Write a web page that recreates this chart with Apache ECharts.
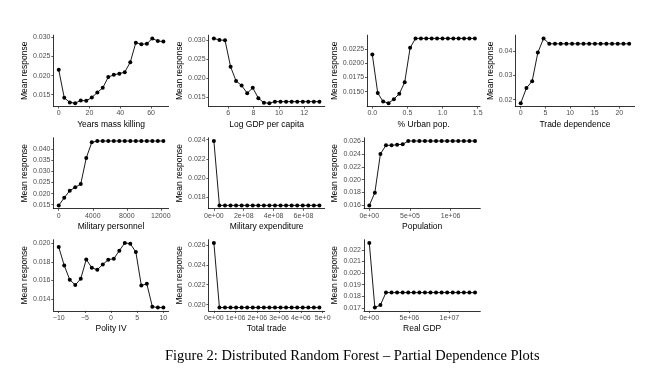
<!DOCTYPE html>
<html><head><meta charset="utf-8">
<script src="https://cdn.jsdelivr.net/npm/echarts@6/dist/echarts.min.js"></script>
<style>html,body{margin:0;padding:0;background:#fff}#c{width:661px;height:383px}</style>
</head><body><div id="c"></div>
<script>
// ---- data ----
const yrsX = [0,3.6,7.2,10.7,14.3,17.9,21.5,25.1,28.6,32.2,35.8,39.4,42.9,46.5,50.1,53.7,57.3,60.8,64.4,68];
const yrsY = [0.0215,0.0142,0.0130,0.0128,0.0135,0.0134,0.0143,0.0156,0.0168,0.0196,0.0202,0.0205,0.0209,0.0235,0.0286,0.0282,0.0283,0.0297,0.0290,0.0289];
const gdpX = [4.87,5.31,5.75,6.19,6.62,7.06,7.50,7.94,8.38,8.82,9.25,9.69,10.13,10.57,11.01,11.45,11.89,12.32,12.76,13.20];
const gdpY = [0.0304,0.0300,0.0299,0.0230,0.0193,0.0181,0.0161,0.0175,0.0148,0.0136,0.0135,0.0139,0.0139,0.0139,0.0139,0.0139,0.0139,0.0139,0.0139,0.0139];
const urbX = [0,0.077,0.154,0.231,0.307,0.384,0.461,0.538,0.615,0.692,0.768,0.845,0.922,0.999,1.076,1.153,1.229,1.306,1.383,1.46];
const urbY = [0.02155,0.01476,0.01327,0.01298,0.01369,0.01464,0.01667,0.02274,0.0244,0.0244,0.0244,0.0244,0.0244,0.0244,0.0244,0.0244,0.0244,0.0244,0.0244,0.0244];
const tdX = [0,1.16,2.32,3.47,4.63,5.79,6.95,8.11,9.26,10.42,11.58,12.74,13.89,15.05,16.21,17.37,18.53,19.68,20.84,22];
const tdY = [0.0186,0.0248,0.0276,0.0393,0.0451,0.0429,0.0429,0.0429,0.0429,0.0429,0.0429,0.0429,0.0429,0.0429,0.0429,0.0429,0.0429,0.0429,0.0429,0.0429];
const mpX = [0,647,1295,1942,2589,3237,3884,4532,5179,5826,6474,7121,7768,8416,9063,9711,10358,11005,11653,12300];
const mpY = [0.0147,0.0181,0.0213,0.0228,0.0243,0.0360,0.0430,0.0436,0.0436,0.0436,0.0436,0.0436,0.0436,0.0436,0.0436,0.0436,0.0436,0.0436,0.0436,0.0436];
const meX = [0,3.72e7,7.44e7,1.116e8,1.488e8,1.861e8,2.233e8,2.605e8,2.977e8,3.349e8,3.721e8,4.093e8,4.465e8,4.837e8,5.209e8,5.582e8,5.954e8,6.326e8,6.698e8,7.07e8];
const meY = [0.02386,0.01711,0.01711,0.01711,0.01711,0.01711,0.01711,0.01711,0.01711,0.01711,0.01711,0.01711,0.01711,0.01711,0.01711,0.01711,0.01711,0.01711,0.01711,0.01711];
const popX = [0,68421,136842,205263,273684,342105,410526,478947,547368,615789,684211,752632,821053,889474,957895,1026316,1094737,1163158,1231579,1300000];
const popY = [0.0160,0.01797,0.0240,0.02533,0.02533,0.02543,0.02548,0.0260,0.0260,0.0260,0.0260,0.0260,0.0260,0.0260,0.0260,0.0260,0.0260,0.0260,0.0260,0.0260];
const polX = [-10,-8.95,-7.89,-6.84,-5.79,-4.74,-3.68,-2.63,-1.58,-0.53,0.53,1.58,2.63,3.68,4.74,5.79,6.84,7.89,8.95,10];
const polY = [0.0196,0.01761,0.01606,0.0155,0.01617,0.01826,0.01736,0.01714,0.01772,0.01823,0.01834,0.0192,0.02004,0.01996,0.01906,0.01544,0.01562,0.01316,0.01306,0.01306];
const ttX = [0,255263,510526,765789,1021053,1276316,1531579,1786842,2042105,2297368,2552632,2807895,3063158,3318421,3573684,3828947,4084211,4339474,4594737,4850000];
const ttY = [0.0262,0.0197,0.0197,0.0197,0.0197,0.0197,0.0197,0.0197,0.0197,0.0197,0.0197,0.0197,0.0197,0.0197,0.0197,0.0197,0.0197,0.0197,0.0197,0.0197];
const rgX = [0,694737,1389474,2084211,2778947,3473684,4168421,4863158,5557895,6252632,6947368,7642105,8336842,9031579,9726316,10421053,11115789,11810526,12505263,13200000];
const rgY = [0.0226,0.01703,0.01725,0.01832,0.01832,0.01832,0.01832,0.01832,0.01832,0.01832,0.01832,0.01832,0.01832,0.01832,0.01832,0.01832,0.01832,0.01832,0.01832,0.01832];

// ---- tick labels ----
const ticks = {
  yrsXT: [0,20,40,60], yrsXL: ['0','20','40','60'],
  yrsYT: [0.015,0.020,0.025,0.030], yrsYL: ['0.015','0.020','0.025','0.030'],
  gdpXT: [6,8,10,12], gdpXL: ['6','8','10','12'],
  gdpYT: [0.015,0.020,0.025,0.030], gdpYL: ['0.015','0.020','0.025','0.030'],
  urbXT: [0,0.5,1,1.5], urbXL: ['0.0','0.5','1.0','1.5'],
  urbYT: [0.015,0.0175,0.02,0.0225], urbYL: ['0.0150','0.0175','0.0200','0.0225'],
  tdXT: [0,5,10,15,20], tdXL: ['0','5','10','15','20'],
  tdYT: [0.02,0.03,0.04], tdYL: ['0.02','0.03','0.04'],
  mpXT: [0,4000,8000,12000], mpXL: ['0','4000','8000','12000'],
  mpYT: [0.015,0.020,0.025,0.030,0.035,0.040], mpYL: ['0.015','0.020','0.025','0.030','0.035','0.040'],
  meXT: [0,2e8,4e8,6e8], meXL: ['0e+00','2e+08','4e+08','6e+08'],
  meYT: [0.018,0.020,0.022,0.024], meYL: ['0.018','0.020','0.022','0.024'],
  popXT: [0,5e5,1e6], popXL: ['0e+00','5e+05','1e+06'],
  popYT: [0.016,0.018,0.020,0.022,0.024,0.026], popYL: ['0.016','0.018','0.020','0.022','0.024','0.026'],
  polXT: [-10,-5,0,5,10], polXL: ['\u221210','\u22125','0','5','10'],
  polYT: [0.014,0.016,0.018,0.020], polYL: ['0.014','0.016','0.018','0.020'],
  ttXT: [0,1e6,2e6,3e6,4e6,5e6], ttXL: ['0e+00','1e+06','2e+06','3e+06','4e+06','5e+0'],
  ttYT: [0.020,0.022,0.024,0.026], ttYL: ['0.020','0.022','0.024','0.026'],
  rgXT: [0,5e6,1e7], rgXL: ['0e+00','5e+06','1e+07'],
  rgYT: [0.017,0.018,0.019,0.020,0.021,0.022], rgYL: ['0.017','0.018','0.019','0.020','0.021','0.022']
};
const xNames = ['Years mass killing','Log GDP per capita','% Urban pop.','Trade dependence','Military personnel','Military expenditure','Population','Polity IV','Total trade','Real GDP'];

// ---- layout ----
const panels = [
  {k:'yrs', x:yrsX, y:yrsY, L:53.5, T:35.2, W:115.1, H:71.2, g:24},
  {k:'gdp', x:gdpX, y:gdpY, L:208.6, T:35.2, W:116.1, H:71.2, g:23.5},
  {k:'urb', x:urbX, y:urbY, L:367.2, T:35.2, W:112.8, H:71.2, g:27},
  {k:'td', x:tdX, y:tdY, L:515.3, T:35.2, W:119.3, H:71.2, g:19.5},
  {k:'mp', x:mpX, y:mpY, L:53.5, T:137.8, W:115.1, H:70.8, g:24},
  {k:'me', x:meX, y:meY, L:208.6, T:137.8, W:116.1, H:70.8, g:23.5},
  {k:'pop', x:popX, y:popY, L:364, T:137.8, W:116.3, H:70.8, g:24},
  {k:'pol', x:polX, y:polY, L:53.5, T:239.7, W:115.1, H:71.1, g:24},
  {k:'tt', x:ttX, y:ttY, L:208.6, T:239.7, W:116.1, H:71.1, g:23.5},
  {k:'rg', x:rgX, y:rgY, L:364, T:239.7, W:116.3, H:71.1, g:24}
];
const SANS = 'Liberation Sans, Arial, sans-serif';
function lim(a){const mn=Math.min(...a),mx=Math.max(...a),p=(mx-mn)*0.05;return [mn-p,mx+p];}
function fmt(T,Lb){return v=>{const i=T.findIndex(t=>Math.abs(t-v)<1e-12*Math.max(1,Math.abs(t)));return i>=0?Lb[i]:'';};}

const grid=[],xAxis=[],yAxis=[],series=[];
panels.forEach((p,i)=>{
  grid.push({left:p.L,top:p.T,width:p.W,height:p.H,containLabel:false});
  const xl=lim(p.x), yl=lim(p.y);
  const XT=ticks[p.k+'XT'],XL=ticks[p.k+'XL'],YT=ticks[p.k+'YT'],YL=ticks[p.k+'YL'];
  xAxis.push({type:'value',gridIndex:i,min:xl[0],max:xl[1],
    name:xNames[i],nameLocation:'middle',nameGap:13.5,
    nameTextStyle:{fontFamily:SANS,fontSize:8.5,color:'#000'},
    axisLine:{show:true,onZero:false,lineStyle:{color:'#000',width:0.8}},
    axisTick:{show:true,length:2.2,customValues:XT,lineStyle:{color:'#333',width:0.8}},
    axisLabel:{show:true,customValues:XT,formatter:fmt(XT,XL),margin:3.5,fontFamily:SANS,fontSize:7,color:'#4d4d4d'},
    splitLine:{show:false}});
  yAxis.push({type:'value',gridIndex:i,min:yl[0],max:yl[1],
    name:'Mean response',nameLocation:'middle',nameGap:p.g,nameRotate:90,
    nameTextStyle:{fontFamily:SANS,fontSize:8.5,color:'#000'},
    axisLine:{show:true,onZero:false,lineStyle:{color:'#000',width:0.8}},
    axisTick:{show:true,length:2.2,customValues:YT,lineStyle:{color:'#333',width:0.8}},
    axisLabel:{show:true,customValues:YT,formatter:fmt(YT,YL),margin:3,fontFamily:SANS,fontSize:7,color:'#4d4d4d'},
    splitLine:{show:false}});
  series.push({type:'line',xAxisIndex:i,yAxisIndex:i,data:p.x.map((v,j)=>[v,p.y[j]]),
    symbol:'circle',symbolSize:4,showSymbol:true,clip:false,
    lineStyle:{color:'#000',width:0.9},itemStyle:{color:'#000'},emphasis:{disabled:true}});
});

const chart=echarts.init(document.getElementById('c'),null,{renderer:'canvas'});
chart.setOption({
  animation:false,backgroundColor:'#fff',
  grid,xAxis,yAxis,series,
  graphic:[{type:'text',left:165,top:349,style:{text:'Figure 2: Distributed Random Forest \u2013 Partial Dependence Plots',
    font:'14.5px "Liberation Serif", serif',fill:'#000'}}]
});
</script></body></html>
